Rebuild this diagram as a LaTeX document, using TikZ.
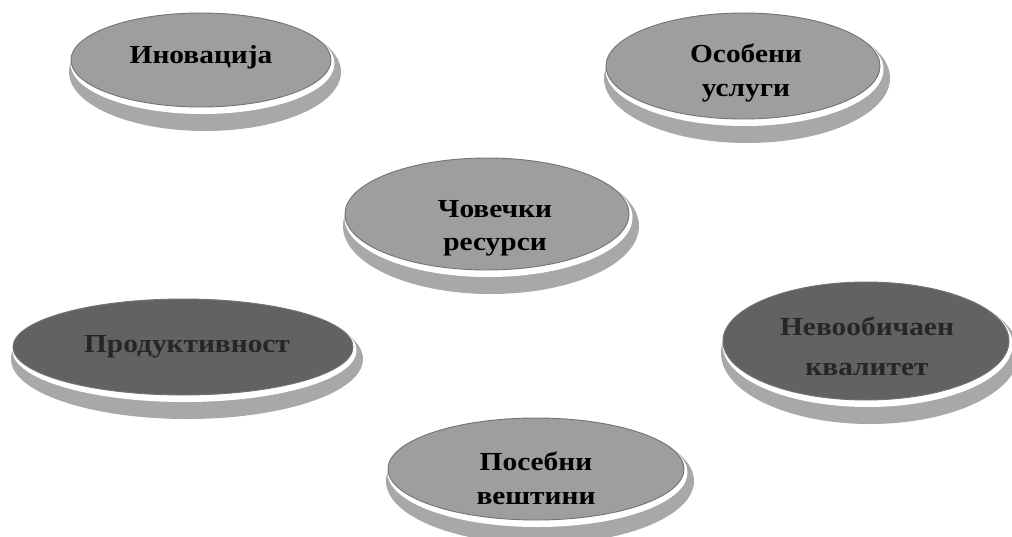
\documentclass[tikz,border=0pt]{standalone}
\usepackage{fontspec}
\newfontfamily\lblfont{Liberation Serif}[FakeStretch=1.13]
\usetikzlibrary{shapes.geometric}
\definecolor{midfill}{RGB}{158,158,158}
\definecolor{darkfill}{RGB}{98,98,98}
\definecolor{rimgray}{RGB}{168,168,168}
\tikzset{
  rimshape/.style={ellipse, fill=rimgray, draw=none, inner sep=0pt, outer sep=0pt},
  gapshape/.style={ellipse, fill=white, draw=none, inner sep=0pt, outer sep=0pt},
  bodyshape/.style={ellipse, draw=black!55, line width=0.9pt, inner sep=0pt, outer sep=0pt},
  lbl/.style={font=\lblfont\bfseries\fontsize{26}{30}\selectfont, text=black, inner sep=0pt, anchor=base},
  dlbl/.style={lbl, text=black!85}
}
\newcommand{\discshape}[6]{%
  \node[rimshape, minimum width={2*#4+12}, minimum height={2*#5+24}] (#1-rim) at ({#2+4},{#3+12}) {};
  \node[gapshape, minimum width={2*#4+4}, minimum height={2*#5+7}] (#1-gap) at ({#2+1.5},{#3+3.5}) {};
  \node[bodyshape, fill=#6, minimum width={2*#4}, minimum height={2*#5}] (#1) at (#2,#3) {};
}
\begin{document}
\begin{tikzpicture}[x=1pt,y=-1pt]
\useasboundingbox (0,0) rectangle (1012,536);
\fill[white] (0,0) rectangle (1012,536);
\discshape{ino}{201}{60}{130}{47}{midfill}
\discshape{os}{743}{66}{137}{53}{midfill}
\discshape{cov}{487}{214}{142}{56}{midfill}
\discshape{prod}{183}{347}{170}{48}{darkfill}
\discshape{nev}{866}{341}{143}{59}{darkfill}
\discshape{pos}{536}{469}{148}{51}{midfill}
\node[lbl] (ino-t) at (201,63) {Иновација};
\node[lbl] (os-t1) at (746,62) {Особени};
\node[lbl] (os-t2) at (746,96) {услуги};
\node[lbl] (cov-t1) at (495,217) {Човечки};
\node[lbl] (cov-t2) at (495,250) {ресурси};
\node[dlbl] (prod-t) at (187,352) {Продуктивност};
\node[dlbl] (nev-t1) at (867,335) {Невообичаен};
\node[dlbl] (nev-t2) at (867,375) {квалитет};
\node[lbl] (pos-t1) at (536,470) {Посебни};
\node[lbl] (pos-t2) at (536,504) {вештини};
\end{tikzpicture}
\end{document}
